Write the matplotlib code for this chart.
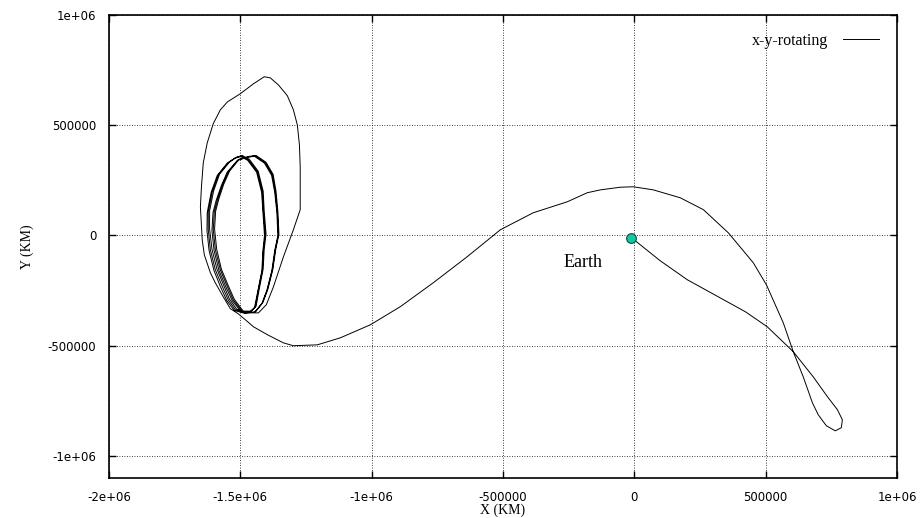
import matplotlib
matplotlib.use("Agg")
import matplotlib.pyplot as plt
import numpy as np

# trajectory in the rotating frame, values in thousands of km
# leg 1: from Earth, around the loop on the right, over the top and down to the dip
transfer_x = [-11, 99, 202, 327, 423, 506, 605, 681, 735, 773, 792, 788, 765, 731, 700, 678,
              643, 605, 567, 503, 453, 358, 263, 175, 72, -4, -53, -129, -179, -255, -385,
              -510, -636, -765, -891, -1005, -1119, -1207, -1298, -1336, -1397, -1450, -1481, -1508]
transfer_y = [-10, -115, -201, -283, -346, -414, -527, -641, -731, -790, -836, -872, -886, -863, -813, -759,
              -641, -527, -396, -224, -124, 12, 117, 171, 207, 221, 219, 207, 194, 153, 103,
              26, -96, -214, -323, -405, -464, -496, -500, -487, -450, -414, -382, -355]

# leg 2: the big arc round the halo region
arc_x = [-1538, -1565, -1595, -1614, -1637, -1645, -1652, -1648, -1641, -1626, -1603, -1576, -1549,
         -1500, -1450, -1409, -1386, -1355, -1321, -1298, -1283, -1275, -1272, -1272, -1272,
         -1298, -1336, -1374, -1401, -1431]
arc_y = [-332, -278, -215, -169, -88, -20, 130, 221, 330, 420, 507, 570, 606,
         643, 688, 720, 715, 683, 634, 570, 502, 411, 312, 207, 117,
         26, -97, -233, -314, -351]

# halo loops round L2
halo_p1_x = [-1481, -1519, -1546, -1568, -1595, -1614, -1622, -1622, -1607, -1584, -1546, -1519,
             -1496, -1469, -1435, -1416, -1412, -1405, -1412, -1416, -1431, -1443, -1462]
halo_p1_y = [-351, -337, -292, -233, -156, -65, 26, 107, 198, 275, 330, 352,
             361, 343, 289, 198, 107, 3, -65, -156, -246, -324, -346]
halo_q1_x = [-1492, -1527, -1549, -1576, -1595, -1603, -1599, -1587, -1568, -1546, -1508, -1469,
             -1443, -1405, -1378, -1367, -1359, -1355, -1367, -1378, -1397, -1416, -1443]
halo_q1_y = [-346, -292, -233, -156, -65, 26, 107, 162, 230, 289, 343, 357,
             361, 330, 275, 198, 107, 3, -65, -156, -246, -306, -346]
halo_p2_x = [-1484, -1523, -1551, -1574, -1600, -1619, -1627, -1626, -1611, -1588, -1550, -1522,
             -1499, -1472, -1438, -1419, -1414, -1408, -1414, -1418, -1433, -1446, -1465]
halo_p2_y = [-353, -340, -296, -237, -160, -68, 22, 104, 196, 272, 328, 350,
             358, 341, 287, 196, 104, 0, -68, -160, -249, -327, -349]
halo_q2_x = [-1495, -1531, -1554, -1581, -1600, -1608, -1604, -1592, -1572, -1550, -1511, -1472,
             -1446, -1408, -1381, -1369, -1361, -1357, -1369, -1380, -1399, -1418, -1446]
halo_q2_y = [-349, -295, -236, -159, -68, 23, 104, 159, 227, 287, 341, 355,
             359, 328, 273, 196, 105, 0, -68, -159, -249, -309, -349]
halo_p3_x = [-1478, -1514, -1541, -1562, -1589, -1608, -1617, -1617, -1602, -1579, -1541, -1515,
             -1493, -1466, -1432, -1413, -1409, -1402, -1409, -1413, -1428, -1440, -1459]
halo_p3_y = [-348, -334, -289, -230, -152, -62, 30, 111, 201, 278, 333, 355,
             363, 346, 292, 201, 110, 6, -62, -152, -243, -321, -343]
halo_q3_x = [-1489, -1523, -1545, -1572, -1590, -1598, -1594, -1582, -1563, -1541, -1504, -1466,
             -1440, -1402, -1375, -1364, -1357, -1353, -1365, -1376, -1395, -1414, -1440]
halo_q3_y = [-343, -289, -230, -153, -62, 29, 110, 165, 233, 292, 346, 359,
             363, 332, 277, 200, 109, 6, -62, -153, -243, -303, -343]

earth_x, earth_y = -11, -10

xticks = [-2e6, -1.5e6, -1e6, -5e5, 0, 5e5, 1e6]
xtick_labels = ["-2e+06", "-1.5e+06", "-1e+06", "-500000", "0", "500000", "1e+06"]
yticks = [-1e6, -5e5, 0, 5e5, 1e6]
ytick_labels = ["-1e+06", "-500000", "0", "500000", "1e+06"]

xs = np.concatenate([transfer_x, arc_x, halo_p1_x, halo_q1_x, halo_p2_x,
                     halo_q2_x, halo_p3_x, halo_q3_x]) * 1e3
ys = np.concatenate([transfer_y, arc_y, halo_p1_y, halo_q1_y, halo_p2_y,
                     halo_q2_y, halo_p3_y, halo_q3_y]) * 1e3

serif = "Liberation Serif"

fig = plt.figure(figsize=(9.22, 5.18), dpi=100)
ax = fig.add_axes([0.1182, 0.0772, 0.8547, 0.8938])

ax.plot(xs, ys, color="black", lw=0.7, label="x-y-rotating")
ax.plot(earth_x * 1e3, earth_y * 1e3, "o", ms=7, mfc="#14c8a0", mec="#0b4d3e", mew=0.8, zorder=5)
ax.text(-194e3, -124e3, "Earth", family=serif, fontsize=13, ha="center", va="center")

ax.set_xlim(-2e6, 1e6)
ax.set_ylim(-1.1e6, 1e6)
ax.set_xticks(xticks)
ax.set_xticklabels(xtick_labels)
ax.set_yticks(yticks)
ax.set_yticklabels(ytick_labels)
ax.tick_params(direction="in", top=True, right=True, length=5, width=1, labelsize=8.5, pad=9)
ax.grid(True, color="black", lw=0.6, linestyle=(0, (1, 2)))
for s in ax.spines.values():
    s.set_linewidth(1.2)

ax.set_xlabel("X (KM)", family=serif, fontsize=10, labelpad=0)
ax.set_ylabel("Y (KM)", family=serif, fontsize=10, labelpad=10)

ax.legend(loc="upper right", frameon=False, markerfirst=False, handlelength=2.3,
          handletextpad=0.9, prop={"family": serif, "size": 11.5}, borderaxespad=0.7)

fig.savefig("out.png", dpi=100)
